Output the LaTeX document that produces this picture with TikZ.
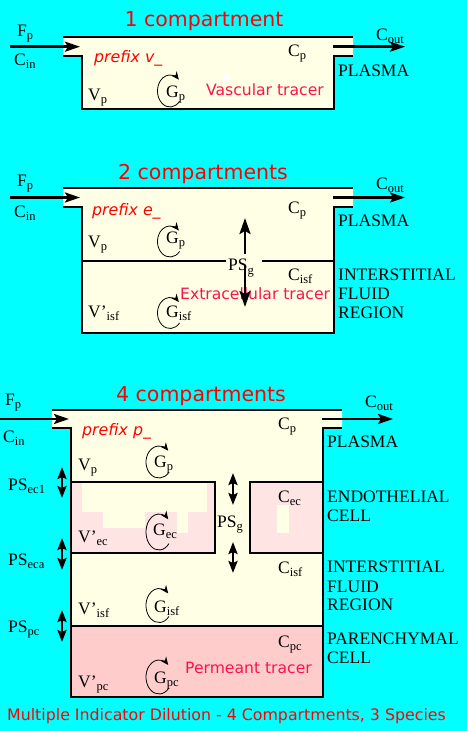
\documentclass[tikz,border=0pt]{standalone}
\usepackage{fontspec}
\setmainfont{Liberation Serif}
\newfontfamily\dvs{DejaVu Sans}
\usetikzlibrary{arrows.meta}
\definecolor{bgcyan}{RGB}{0,255,255}
\definecolor{beige}{RGB}{255,255,230}
\definecolor{ecpink}{RGB}{255,228,228}
\definecolor{pcpink}{RGB}{255,204,204}
\definecolor{titlered}{RGB}{255,0,0}
\definecolor{tracerred}{RGB}{250,20,75}
\newcommand\lsub[1]{\raisebox{-3.5pt}{\fontsize{12.5}{12.5}\selectfont #1}}
\begin{document}
\begin{tikzpicture}[x=1pt,y=-1pt,
 lab/.style={anchor=base west, inner sep=0pt, font=\fontsize{17.5}{17.5}\selectfont},
 ttl/.style={anchor=base, inner sep=0pt, text=titlered, font=\dvs\fontsize{20.5}{20.5}\selectfont},
 pfx/.style={anchor=base west, inner sep=0pt, text=titlered, font=\dvs\itshape\fontsize{15.8}{15.8}\selectfont},
 trc/.style={anchor=base west, inner sep=0pt, text=tracerred, font=\dvs\fontsize{15.6}{15.6}\selectfont},
 captext/.style={anchor=base west, inner sep=0pt, text=titlered, font=\dvs\fontsize{15.8}{15.8}\selectfont},
 wall/.style={line width=2.6pt, line join=miter},
 flow/.style={line width=2.6pt, -{Stealth[length=15pt,width=10pt,inset=3pt]}},
 psone/.style={line width=2.6pt, -{Stealth[length=16pt,width=11pt,inset=3pt]}},
 psarrow/.style={line width=2.6pt, {Stealth[length=12pt,width=9pt,inset=2pt]}-{Stealth[length=12pt,width=9pt,inset=2pt]}},
 gcirc/.style={line width=0.8pt, -{Stealth[length=8pt,width=7pt]}}
]
\path[fill=bgcyan] (0,0) rectangle (467,731);
\useasboundingbox (0,0) rectangle (467,731);

% ================= Diagram 1 =================
\fill[beige] (63,37) -- (353,37) -- (353,56) -- (334,56) -- (334,109) -- (82,109) -- (82,56) -- (63,56) -- cycle;
\fill[white] (223,74) rectangle (230,82);
\draw[wall] (63,37) -- (353,37);
\draw[wall] (63,56) -- (82,56) -- (82,109) -- (334,109) -- (334,56) -- (353,56);

\node[ttl] (a-title) at (204,26.7) {1 compartment};
\node[lab] (a-Fp) at (17,36) {F\lsub{p}};
\node[lab] (a-Cin) at (14,65) {C\lsub{in}};
\node[lab] (a-Cp) at (288,56) {C\lsub{p}};
\node[lab] (a-Cout) at (376,40) {C\lsub{out}};
\node[lab] (a-plasma) at (338,76) {PLASMA};
\node[pfx] (a-prefix) at (94,62) {prefix v\_};
\node[lab] (a-Vp) at (88,100) {V\lsub{p}};
\node[lab] (a-Gp) at (166,97) {G\lsub{p}};
\node[trc] (a-tracer) at (206,95) {Vascular tracer};

\coordinate (a-in0) at (10,46.7);
\coordinate (a-in1) at (80,46.7);
\coordinate (a-out0) at (333,46.7);
\coordinate (a-out1) at (405,46.7);
\draw[flow] (a-in0) -- (a-in1);
\draw[flow] (a-out0) -- (a-out1);
\draw[gcirc] (170,91) ++(40:12.5 and 16) arc[start angle=40,end angle=315,x radius=12.5,y radius=16];

% ================= Diagram 2 =================
\fill[beige] (63,188) -- (353,188) -- (353,207) -- (334,207) -- (334,333) -- (82,333) -- (82,207) -- (63,207) -- cycle;
\draw[wall] (63,188) -- (353,188);
\draw[wall] (63,207) -- (82,207) -- (82,333) -- (334,333) -- (334,207) -- (353,207);
\draw[wall] (82,261) -- (226,261);
\draw[wall] (262,261) -- (334,261);

\node[ttl] (b-title) at (203,179) {2 compartments};
\node[lab] (b-Fp) at (17,186) {F\lsub{p}};
\node[lab] (b-Cin) at (14,217) {C\lsub{in}};
\node[lab] (b-Cp) at (288,213) {C\lsub{p}};
\node[lab] (b-Cout) at (376,189) {C\lsub{out}};
\node[lab] (b-plasma) at (338,226) {PLASMA};
\node[pfx] (b-prefix) at (92,215) {prefix e\_};
\node[lab] (b-Vp) at (88,247) {V\lsub{p}};
\node[lab] (b-Gp) at (166,243) {G\lsub{p}};
\node[lab] (b-PSg) at (228,270.7) {PS\lsub{g}};
\node[lab] (b-Cisf) at (288,280) {C\lsub{isf}};
\node[lab] (b-inter) at (338,280) {INTERSTITIAL};
\node[lab] (b-fluid) at (338,299) {FLUID};
\node[lab] (b-region) at (338,318) {REGION};
\node[trc] (b-tracer) at (180,299) {Extracellular tracer};
\node[lab] (b-Visf) at (88,317) {V’\lsub{isf}};
\node[lab] (b-Gisf) at (166,317) {G\lsub{isf}};

\coordinate (b-in0) at (10,197.5);
\coordinate (b-in1) at (80,197.5);
\coordinate (b-out0) at (333,197.5);
\coordinate (b-out1) at (405,197.5);
\draw[flow] (b-in0) -- (b-in1);
\draw[flow] (b-out0) -- (b-out1);
\coordinate (b-up0) at (245,254);
\coordinate (b-up1) at (245,218);
\coordinate (b-dn0) at (245,265);
\coordinate (b-dn1) at (245,307);
\draw[psone] (b-up0) -- (b-up1);
\draw[psone] (b-dn0) -- (b-dn1);
\draw[gcirc] (170,241.5) ++(40:12.5 and 15.5) arc[start angle=40,end angle=315,x radius=12.5,y radius=15.5];
\draw[gcirc] (170,313) ++(40:12.5 and 15.5) arc[start angle=40,end angle=315,x radius=12.5,y radius=15.5];

% ================= Diagram 3 =================
\fill[beige] (52,410) -- (342,410) -- (342,428) -- (323,428) -- (323,626) -- (71,626) -- (71,428) -- (52,428) -- cycle;
\fill[pcpink] (71,626) rectangle (323,697);
\fill[ecpink] (71,482) rectangle (215,553);
\fill[ecpink] (250,482) rectangle (323,553);
\fill[beige] (82,483) rectangle (207,512);
\fill[beige] (103,511) rectangle (145,528);
\fill[beige] (177,511) rectangle (188,533);
\fill[beige] (277,505) rectangle (289,533);
\draw[wall] (52,410) -- (342,410);
\draw[wall] (52,428) -- (71,428) -- (71,697) -- (323,697) -- (323,428) -- (342,428);
\draw[wall] (71,482) -- (215,482) -- (215,553) -- (71,553);
\draw[wall] (323,482) -- (250,482) -- (250,553) -- (323,553);
\draw[wall] (71,626) -- (323,626);

\node[ttl] (c-title) at (201,401) {4 compartments};
\node[lab] (c-Fp) at (5,405) {F\lsub{p}};
\node[lab] (c-Cin) at (3,442) {C\lsub{in}};
\node[lab] (c-Cp) at (278,429) {C\lsub{p}};
\node[lab] (c-Cout) at (365,407) {C\lsub{out}};
\node[lab] (c-plasma) at (327,447) {PLASMA};
\node[pfx] (c-prefix) at (82,435) {prefix p\_};
\node[lab] (c-Vp) at (78,470) {V\lsub{p}};
\node[lab] (c-Gp) at (154,467) {G\lsub{p}};
\node[lab] (c-PSec1) at (8,490) {PS\lsub{ec1}};
\node[lab] (c-Cec) at (278,502) {C\lsub{ec}};
\node[lab] (c-endo) at (327,502) {ENDOTHELIAL};
\node[lab] (c-cell1) at (327,521) {CELL};
\node[lab] (c-PSg) at (217,527) {PS\lsub{g}};
\node[lab] (c-Vec) at (78,542) {V’\lsub{ec}};
\node[lab] (c-Gec) at (153,535) {G\lsub{ec}};
\node[lab] (c-PSeca) at (8,565) {PS\lsub{eca}};
\node[lab] (c-Cisf) at (278,573) {C\lsub{isf}};
\node[lab] (c-inter) at (327,572) {INTERSTITIAL};
\node[lab] (c-fluid) at (327,592) {FLUID};
\node[lab] (c-region) at (327,610) {REGION};
\node[lab] (c-Visf) at (78,614) {V’\lsub{isf}};
\node[lab] (c-Gisf) at (154,612) {G\lsub{isf}};
\node[lab] (c-PSpc) at (8,632) {PS\lsub{pc}};
\node[lab] (c-Cpc) at (278,647) {C\lsub{pc}};
\node[lab] (c-paren) at (327,644) {PARENCHYMAL};
\node[lab] (c-cell2) at (327,663) {CELL};
\node[trc] (c-tracer) at (185,673) {Permeant tracer};
\node[lab] (c-Vpc) at (78,687) {V’\lsub{pc}};
\node[lab] (c-Gpc) at (154,683) {G\lsub{pc}};

\coordinate (c-in0) at (0,419);
\coordinate (c-in1) at (69,419);
\coordinate (c-out0) at (322,419);
\coordinate (c-out1) at (393,419);
\draw[flow] (c-in0) -- (c-in1);
\draw[flow] (c-out0) -- (c-out1);
\coordinate (c-ec1a) at (62,467);
\coordinate (c-ec1b) at (62,498);
\coordinate (c-ecaa) at (62,538);
\coordinate (c-ecab) at (62,570);
\coordinate (c-pca) at (62,610);
\coordinate (c-pcb) at (62,642);
\coordinate (c-g1a) at (233,473);
\coordinate (c-g1b) at (233,505);
\coordinate (c-g2a) at (233,542);
\coordinate (c-g2b) at (233,573);
\draw[psarrow] (c-ec1a) -- (c-ec1b);
\draw[psarrow] (c-ecaa) -- (c-ecab);
\draw[psarrow] (c-pca) -- (c-pcb);
\draw[psarrow] (c-g1a) -- (c-g1b);
\draw[psarrow] (c-g2a) -- (c-g2b);
\draw[gcirc] (159,462) ++(40:13 and 16) arc[start angle=40,end angle=315,x radius=13,y radius=16];
\draw[gcirc] (159,532) ++(40:13 and 18) arc[start angle=40,end angle=315,x radius=13,y radius=18];
\draw[gcirc] (159,605.5) ++(40:13 and 17) arc[start angle=40,end angle=315,x radius=13,y radius=17];
\draw[gcirc] (159,677) ++(40:13 and 17) arc[start angle=40,end angle=315,x radius=13,y radius=17];

\node[captext] (caption) at (7,720) {Multiple Indicator Dilution - 4 Compartments, 3 Species};
\end{tikzpicture}
\end{document}
